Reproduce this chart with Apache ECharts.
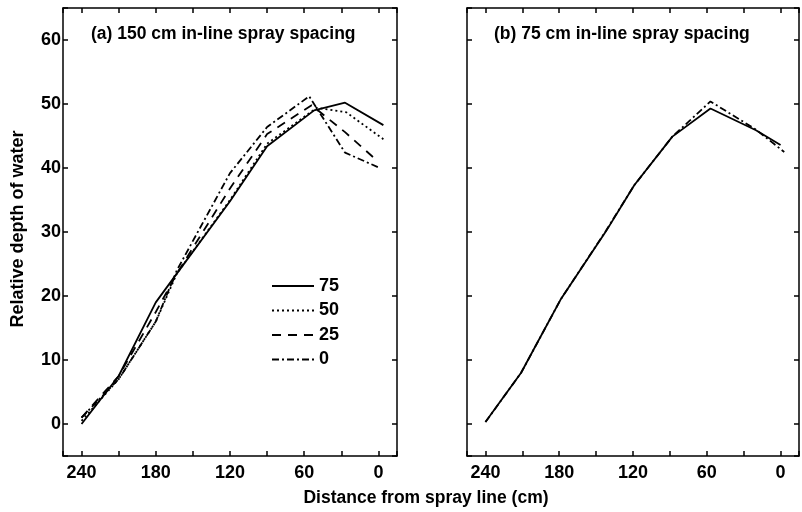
<!DOCTYPE html>
<html>
<head>
<meta charset="utf-8">
<script src="https://cdn.jsdelivr.net/npm/echarts@6/dist/echarts.min.js"></script>
<style>html,body{margin:0;padding:0;background:#fff;}#c{width:802px;height:512px;}</style>
</head>
<body>
<div id="c"></div>
<script>
// ---- data ----
const seriesNames = ['75', '50', '25', '0'];
// panel (a) 150 cm in-line spray spacing
const a75x = [240, 210, 180, 163, 120, 90, 52, 27, -4];
const a75y = [0, 7.5, 19, 23.5, 34.8, 43.4, 49, 50.2, 46.7];
const a50x = [240, 210, 180, 163, 120, 90, 50, 26, -4];
const a50y = [0.5, 7, 16, 23.5, 35, 43.8, 49.4, 48.7, 44.5];
const a25x = [240, 210, 180, 163, 120, 90, 54, 27, 2];
const a25y = [1, 7.5, 17.5, 23.5, 36.8, 45.3, 49.8, 45.6, 41.3];
const a0x = [240, 210, 180, 163, 120, 90, 56, 27, 0];
const a0y = [1, 7, 16, 24, 39.2, 46.4, 51.2, 42.4, 40.1];
// panel (b) 75 cm in-line spray spacing
const b75x = [240, 211, 179, 142, 119, 88, 57, 20, 0];
const b75y = [0.3, 8, 19.4, 30.1, 37.3, 44.9, 49.3, 45.9, 43.6];
const b0x = [240, 211, 179, 142, 119, 88, 75, 57, 20, -3];
const b0y = [0.3, 8, 19.4, 30.2, 37.3, 44.9, 47.2, 50.4, 46, 42.5];
const panelTitles = ['(a) 150 cm in-line spray spacing', '(b) 75 cm in-line spray spacing'];
const xName = 'Distance from spray line (cm)';
const yName = 'Relative depth of water';

function pairs(xs, ys) { return xs.map((x, i) => [x, ys[i]]); }

const FONT = '"Liberation Sans", Arial, sans-serif';
const dashTypes = { '75': 'solid', '50': [2, 3], '25': [9, 7], '0': [7, 3, 2, 3] };

function xAxisDef(grid, pos, labels) {
  return {
    type: 'value', gridIndex: grid, position: pos, inverse: true,
    min: -15, max: 255, minInterval: 30, maxInterval: 30,
    axisLine: { show: true, onZero: false, lineStyle: { color: '#000', width: 1.5 } },
    axisTick: { show: true, inside: true, length: 5, lineStyle: { color: '#000', width: 1.5 } },
    axisLabel: {
      show: labels, margin: 8, color: '#000', fontFamily: FONT, fontSize: 18, fontWeight: 'bold',
      formatter: v => (Math.round(v) % 60 === 0 && v >= 0 && v <= 240) ? String(v) : ''
    },
    splitLine: { show: false }
  };
}
function yAxisDef(grid, pos, labels) {
  return {
    type: 'value', gridIndex: grid, position: pos,
    min: -5, max: 65, minInterval: 10, maxInterval: 10,
    axisLine: { show: true, onZero: false, lineStyle: { color: '#000', width: 1.5 } },
    axisTick: { show: true, inside: true, length: 5, lineStyle: { color: '#000', width: 1.5 } },
    axisLabel: {
      show: labels, margin: 2, color: '#000', fontFamily: FONT, fontSize: 18, fontWeight: 'bold',
      formatter: v => (Math.round(v) % 10 === 0 && v >= 0 && v <= 60) ? String(v) : ''
    },
    splitLine: { show: false }
  };
}

function lineSeries(name, xs, ys, grid) {
  return {
    name: name, type: 'line', xAxisIndex: grid * 2, yAxisIndex: grid * 2,
    data: pairs(xs, ys), symbol: 'none', smooth: false,
    lineStyle: { color: '#000', width: 1.8, type: dashTypes[name] },
    itemStyle: { color: '#000' }, z: 3
  };
}

const chart = echarts.init(document.getElementById('c'), null, { renderer: 'canvas' });
chart.setOption({
  backgroundColor: '#fff',
  animation: false,
  grid: [
    { left: 63, top: 8, width: 334, height: 448, show: false },
    { left: 467, top: 8, width: 333, height: 448, show: false }
  ],
  xAxis: [xAxisDef(0, 'bottom', true), xAxisDef(0, 'top', false), xAxisDef(1, 'bottom', true), xAxisDef(1, 'top', false)],
  yAxis: [yAxisDef(0, 'left', true), yAxisDef(0, 'right', false), yAxisDef(1, 'left', false), yAxisDef(1, 'right', false)],
  legend: {
    data: seriesNames, orient: 'vertical', left: 271, top: 277, padding: 0,
    itemWidth: 42, itemHeight: 14, itemGap: 6.5,
    itemStyle: { opacity: 0 },
    textStyle: { color: '#000', fontFamily: FONT, fontSize: 18, fontWeight: 'bold' },
    selectedMode: false
  },
  graphic: [
    { type: 'text', left: 91, top: 25, style: { text: panelTitles[0], fill: '#000', font: 'bold 17.5px ' + FONT } },
    { type: 'text', left: 494, top: 25, style: { text: panelTitles[1], fill: '#000', font: 'bold 17.5px ' + FONT } },
    { type: 'text', x: 426, y: 498, style: { text: xName, fill: '#000', font: 'bold 17.5px ' + FONT, align: 'center', verticalAlign: 'middle' } },
    { type: 'text', x: 18, y: 229, rotation: Math.PI / 2, style: { text: yName, fill: '#000', font: 'bold 18px ' + FONT, align: 'center', verticalAlign: 'middle' } }
  ],
  series: [
    lineSeries('75', a75x, a75y, 0),
    lineSeries('50', a50x, a50y, 0),
    lineSeries('25', a25x, a25y, 0),
    lineSeries('0', a0x, a0y, 0),
    lineSeries('75', b75x, b75y, 1),
    lineSeries('0', b0x, b0y, 1)
  ]
});
</script>
</body>
</html>
